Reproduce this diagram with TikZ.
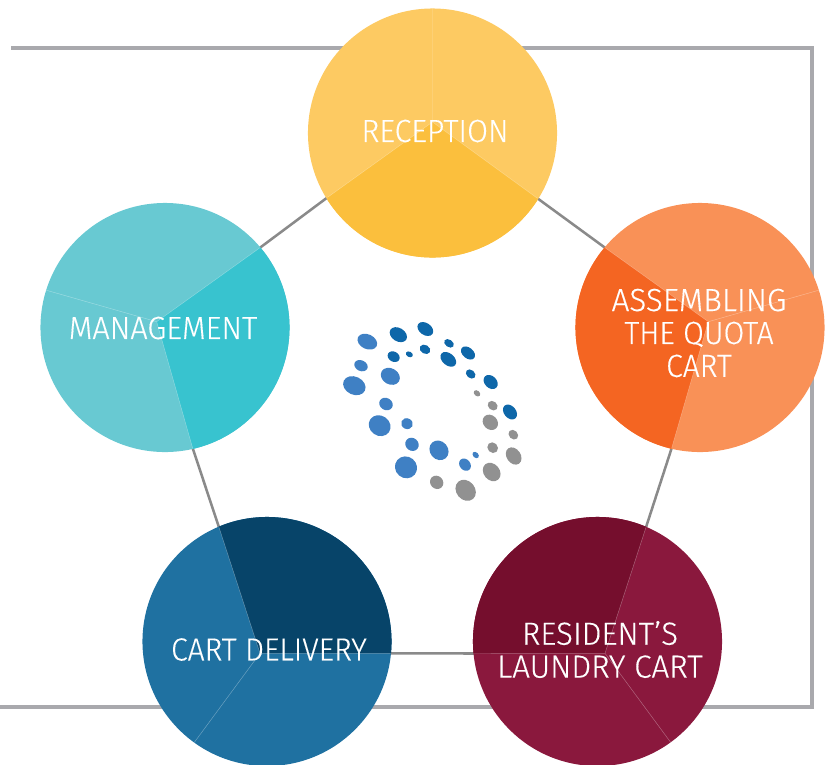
\documentclass[tikz,border=0pt]{standalone}
\usepackage{graphicx}
\usepackage{fontspec}
\setmainfont[FakeStretch=0.94,FakeBold=0.25]{Fira Sans Light}
\definecolor{framec}{HTML}{A9A9AD}
\definecolor{linkc}{HTML}{8A8A8A}
\definecolor{recL}{HTML}{FDCA62}\definecolor{recD}{HTML}{FBBF3D}
\definecolor{asmL}{HTML}{F99157}\definecolor{asmD}{HTML}{F46522}
\definecolor{resL}{HTML}{8A183D}\definecolor{resD}{HTML}{750E2D}
\definecolor{delL}{HTML}{1F71A1}\definecolor{delD}{HTML}{074469}
\definecolor{mgtL}{HTML}{68C9D2}\definecolor{mgtD}{HTML}{38C3CF}
\definecolor{dotA}{HTML}{3F80C4}\definecolor{dotB}{HTML}{0E67A9}\definecolor{dotC}{HTML}{919191}
\tikzset{
  framepath/.style={draw=framec,line width=2.5pt},
  linkpath/.style={draw=linkc,line width=1.9pt},
  seam/.style={line width=0.35pt},
  label/.style={text=white,align=center,inner sep=0pt,font=\fontsize{24}{24.7}\selectfont},
}
\newcommand{\pieblob}[9]{%
  \fill[#3] #2 circle (93.4pt);
  \begin{scope}\clip #2 circle (93.4pt);
    \fill[#4] #5 -- #6 #9 -- #7 -- cycle;
    \draw[seam,white,opacity=.35] #5 -- #6 #5 -- #7 #5 -- #8;
  \end{scope}}
\newcommand{\blob}[6]{\fill[#6,shift={(#1,#2)},rotate=-#5] (0,0) ellipse (#3 and #4);}
\newcommand{\widen}[2]{\scalebox{#1}[1]{#2}}
\begin{document}
\begin{tikzpicture}[x=0.75pt,y=-0.75pt]
\useasboundingbox (0,0) rectangle (826,765);
\coordinate (fa) at (11,48); \coordinate (fb) at (812,48);
\coordinate (fc) at (812,707); \coordinate (fd) at (0,707);
\draw[framepath,line join=miter] (fa) -- (fb) -- (fc) -- (fd);

\coordinate (rA) at (328,197); \coordinate (rB) at (537,198);
\coordinate (aA) at (605,247.7); \coordinate (aB) at (671.7,448);
\coordinate (lA) at (646,527.3); \coordinate (lB) at (474,653.5);
\coordinate (dA) at (390.7,653.3); \coordinate (dB) at (219,527.3);
\coordinate (mA) at (192.7,448.3); \coordinate (mB) at (260,247.7);
\draw[linkpath] (rB) -- (aA);
\draw[linkpath] (aB) -- (lA);
\draw[linkpath] (lB) -- (dA);
\draw[linkpath] (dB) -- (mA);
\draw[linkpath] (mB) -- (rA);

\pieblob{rec}{(432.5,133)}{recL}{recD}{(432.5,122)}{(rA)}{(rB)}{(432.5,0)}{-- (300,290) -- (570,290)}
\pieblob{asm}{(700,327.5)}{asmL}{asmD}{(708.3,321.7)}{(aA)}{(aB)}{(830,287)}{-- (560,240) -- (560,470) -- (665,470)}
\pieblob{res}{(597.5,641.5)}{resL}{resD}{(605,653.3)}{(lA)}{(lB)}{(680,755)}{-- (650,505) -- (460,505) -- (460,653.5)}
\pieblob{del}{(267,641.5)}{delL}{delD}{(260,653.3)}{(dA)}{(dB)}{(185,755)}{-- (400,653.3) -- (400,505) -- (212,505)}
\pieblob{mgt}{(165,327.5)}{mgtL}{mgtD}{(156.7,321.7)}{(mA)}{(mB)}{(35,287)}{-- (198,470) -- (300,470) -- (300,240)}

\node[label] (nrec) at (435,131) {\widen{1.01}{RECEPTION}};
\node[label] (nasm) at (699,333) {\widen{1.045}{ASSEMBLING}\\\widen{1.0}{THE QUOTA}\\CART};
\node[label] (nres) at (600,649.5) {\widen{1.04}{RESIDENT\symbol{39}S}\\\widen{1.045}{LAUNDRY CART}};
\node[label] (ndel) at (269,649.5) {CART DELIVERY};
\node[label] (nmgt) at (163,328) {\widen{1.02}{MANAGEMENT}};

\begin{scope}[shift={(330,310)},x=0.25pt,y=-0.25pt]
\blob{112}{95}{31}{22}{25}{dotA}
\blob{93}{167}{21}{16}{25}{dotA}
\blob{73}{227}{35}{27}{25}{dotA}
\blob{181}{199}{30}{24}{30}{dotA}
\blob{168}{282}{21}{18}{30}{dotA}
\blob{149}{347}{34}{30}{35}{dotA}
\blob{231}{341}{18}{16}{25}{dotA}
\blob{246}{403}{21}{19}{40}{dotA}
\blob{228}{472}{34}{32}{40}{dotA}
\blob{327}{421}{31}{27}{50}{dotA}
\blob{405}{464}{20}{16}{50}{dotA}
\blob{437}{435}{11}{8}{45}{dotA}
\blob{205}{74}{28}{20}{32}{dotB}
\blob{286}{57}{26}{18}{35}{dotB}
\blob{191}{140}{19}{15}{30}{dotB}
\blob{238}{133}{11}{8}{30}{dotB}
\blob{285}{118}{17}{13}{30}{dotB}
\blob{357}{100}{16}{11}{35}{dotB}
\blob{355}{148}{27}{18}{40}{dotB}
\blob{414}{129}{24}{16}{40}{dotB}
\blob{422}{192}{16}{12}{40}{dotB}
\blob{482}{216}{24}{18}{45}{dotB}
\blob{540}{306}{25}{18}{50}{dotB}
\blob{441}{250}{11}{8}{40}{dotC}
\blob{488}{287}{16}{13}{40}{dotC}
\blob{481}{337}{25}{21}{45}{dotC}
\blob{550}{374}{16}{13}{45}{dotC}
\blob{488}{413}{17}{15}{45}{dotC}
\blob{551}{438}{28}{21}{55}{dotC}
\blob{485}{486}{30}{24}{50}{dotC}
\blob{407}{541}{34}{28}{50}{dotC}
\blob{320}{517}{21}{19}{45}{dotC}
\end{scope}
\end{tikzpicture}
\end{document}
